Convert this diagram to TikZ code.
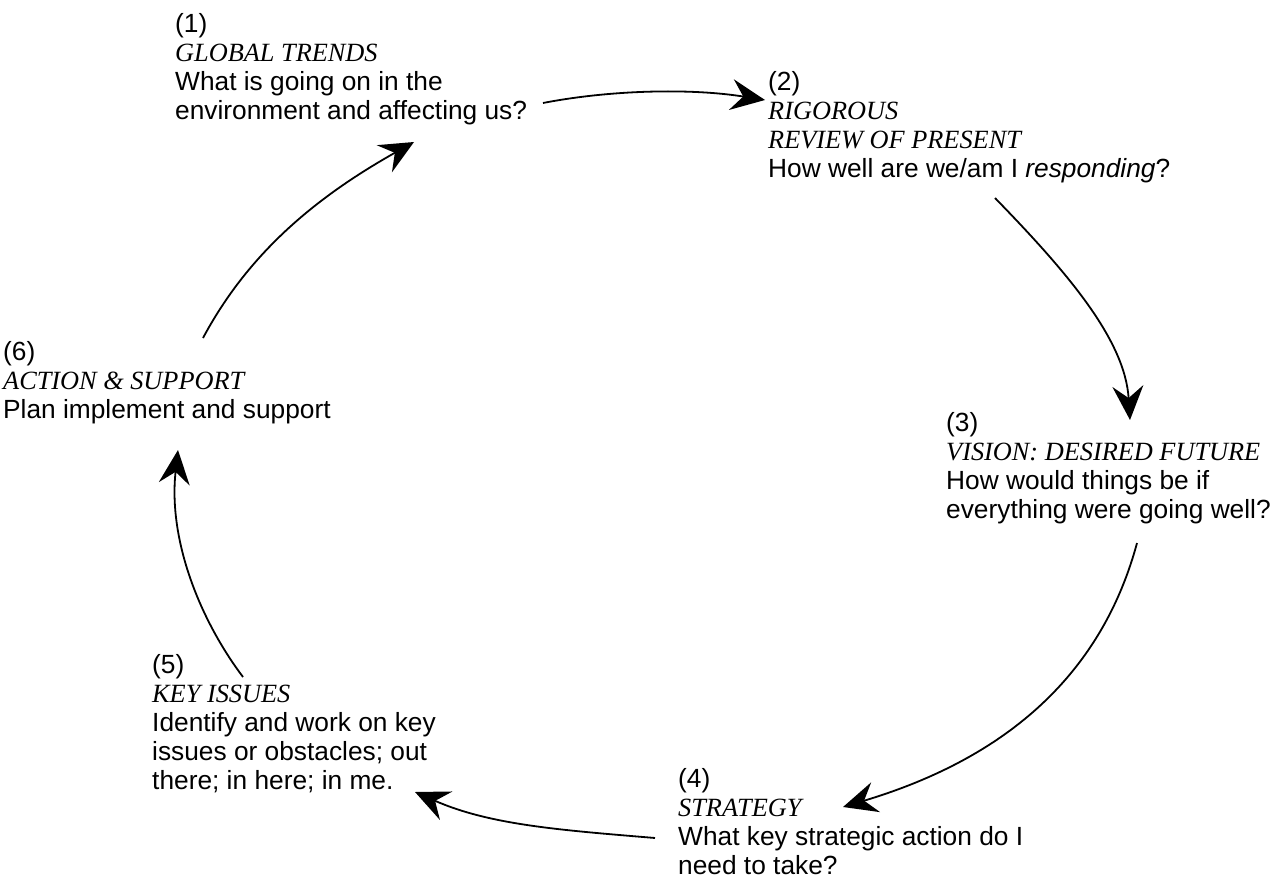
\documentclass[tikz,border=0pt]{standalone}
\usepackage{fontspec}
\setmainfont{Liberation Sans}
\newfontfamily\titfont{Liberation Serif}
\usetikzlibrary{arrows.meta}
\newcommand\tit[1]{{\titfont\itshape #1}}
\newcommand\blk[1]{\parbox[t]{440pt}{\raggedright #1}}
\tikzset{
  blocktext/.style={anchor=base west, inner sep=0pt, font=\fontsize{26.3}{29}\selectfont},
  cyclearrow/.style={line width=1.8pt, -{Stealth[length=34pt,width=31pt,inset=12pt]}}
}
\begin{document}
\begin{tikzpicture}[x=1pt,y=-1pt]
\useasboundingbox (0,0) rectangle (1280,880);
\node[blocktext] (b1) at (175,33) {\blk{(1)\\ \tit{GLOBAL TRENDS}\\ What is going on in the\\ environment and affecting us?}};
\node[blocktext] (b2) at (768,91) {\blk{(2)\\ \tit{RIGOROUS}\\ \tit{REVIEW OF PRESENT}\\ How well are we/am I \textit{responding}?}};
\node[blocktext] (b3) at (946,431) {\blk{(3)\\ \tit{VISION: DESIRED FUTURE}\\ How would things be if\\ everything were going well?}};
\node[blocktext] (b4) at (678,787) {\blk{(4)\\ \tit{STRATEGY}\\ What key strategic action do I\\ need to take?}};
\node[blocktext] (b5) at (152,673) {\blk{(5)\\ \tit{KEY ISSUES}\\ Identify and work on key\\ issues or obstacles; out\\ there; in here; in me.}};
\node[blocktext] (b6) at (3,360) {\blk{(6)\\ \tit{ACTION \& SUPPORT}\\ Plan implement and support}};
\coordinate (s1) at (543,103); \coordinate (e1) at (765,100);
\coordinate (s2) at (995,198); \coordinate (e2) at (1130,420);
\coordinate (s3) at (1137,543); \coordinate (e3) at (843,807);
\coordinate (s4) at (655,838); \coordinate (e4) at (415,792);
\coordinate (s5) at (243,677); \coordinate (e5) at (178,450);
\coordinate (s6) at (203,338); \coordinate (e6) at (414,142);
\draw[cyclearrow] (s1) .. controls (610,90) and (690,88) .. (e1);
\draw[cyclearrow] (s2) .. controls (1068,273) and (1125,340) .. (e2);
\draw[cyclearrow] (s3) .. controls (1100,680) and (1000,760) .. (e3);
\draw[cyclearrow] (s4) .. controls (560,830) and (490,825) .. (e4);
\draw[cyclearrow] (s5) .. controls (200,620) and (168,540) .. (e5);
\draw[cyclearrow] (s6) .. controls (250,250) and (320,195) .. (e6);
\end{tikzpicture}
\end{document}
